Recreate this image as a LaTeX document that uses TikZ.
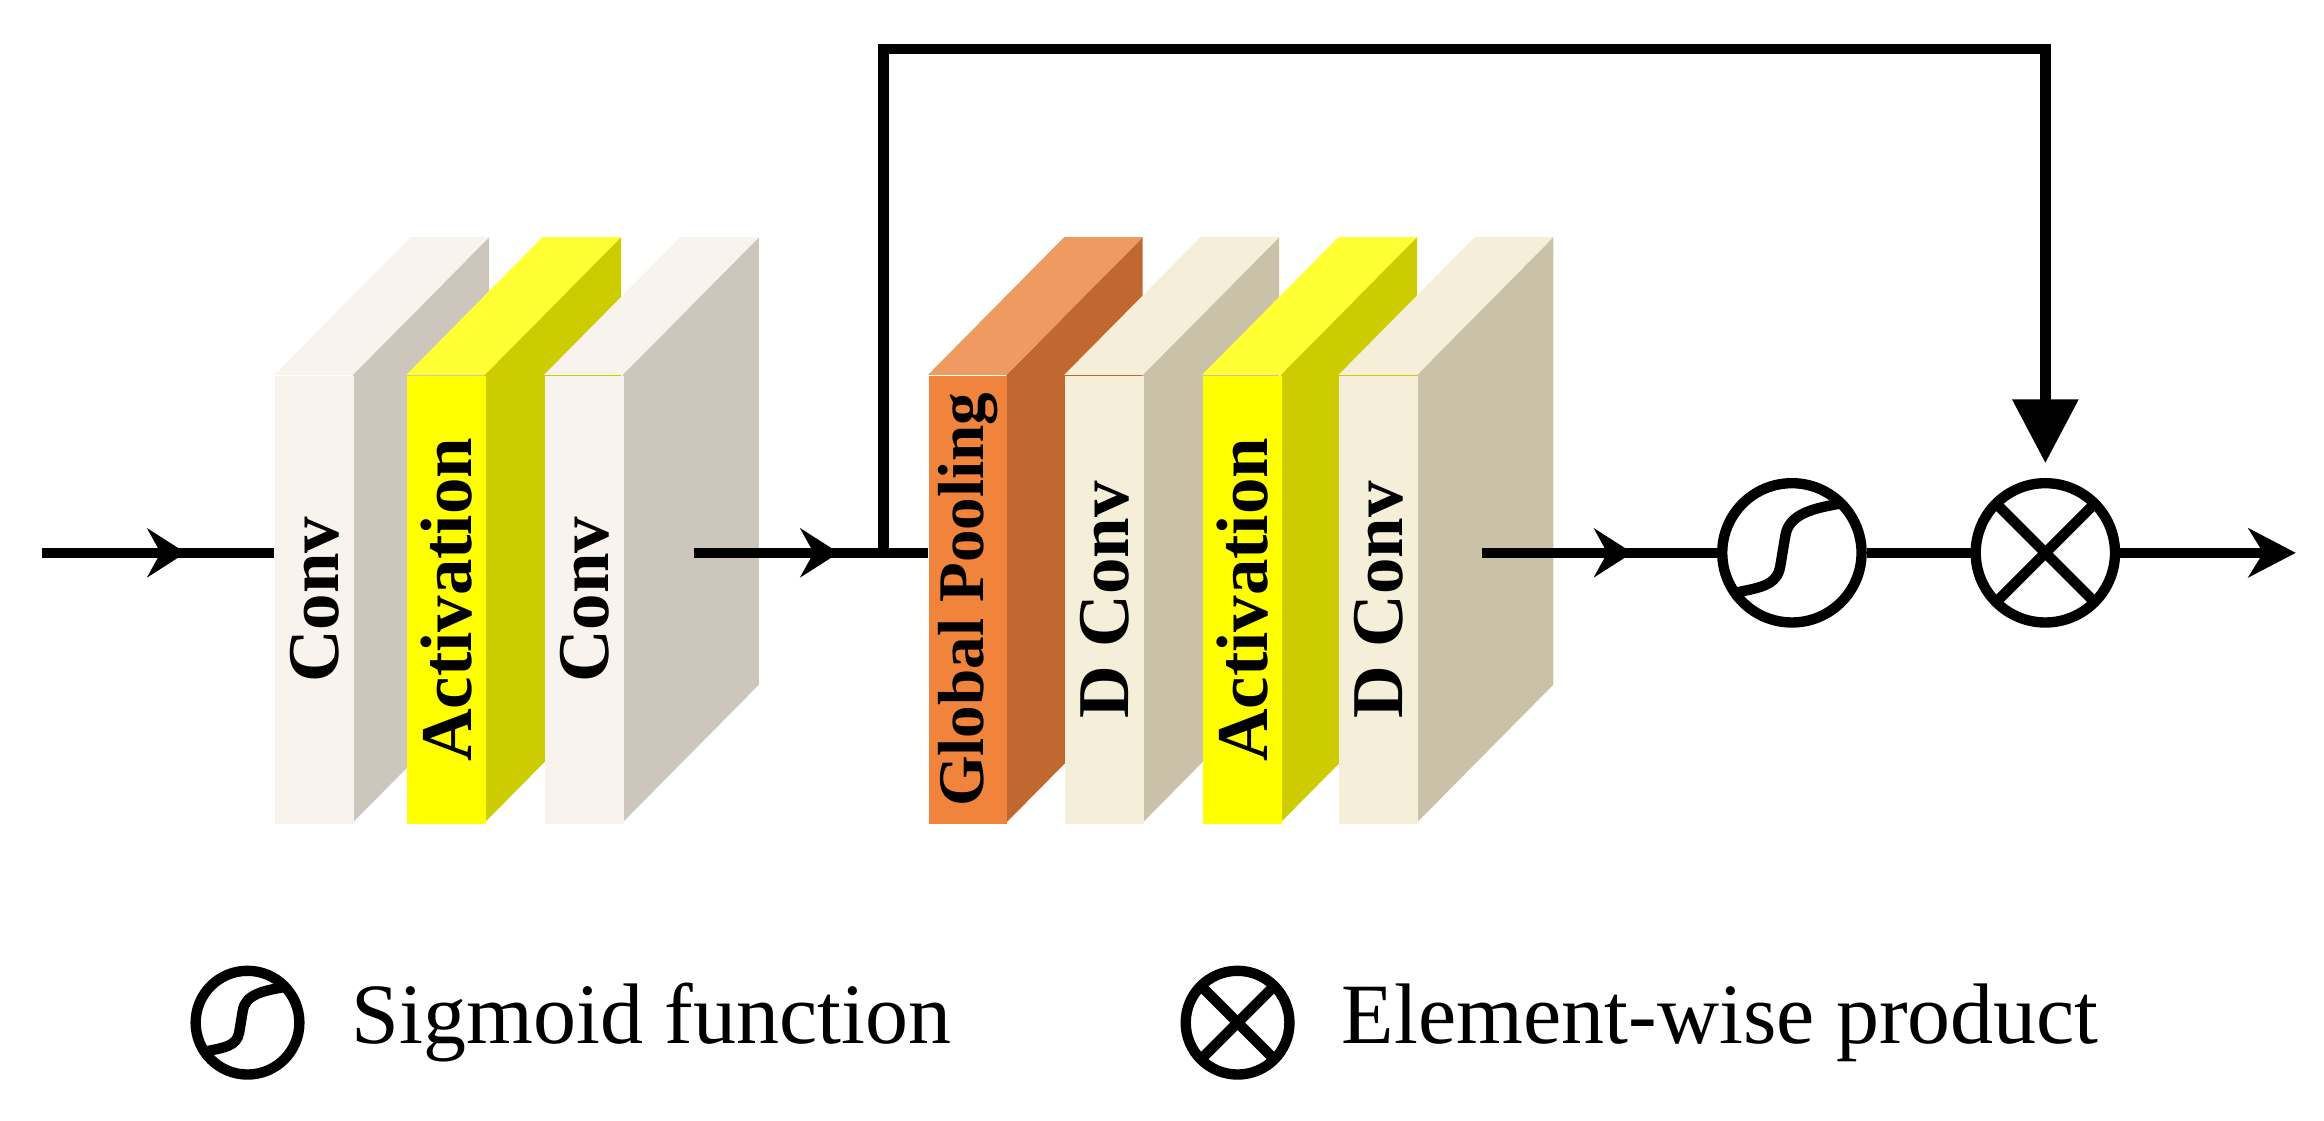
\documentclass[tikz,border=0pt]{standalone}
\usepackage{fontspec}
\setmainfont{Liberation Serif}
\usetikzlibrary{arrows.meta,decorations.markings}
\definecolor{convF}{HTML}{F8F3EC}\definecolor{convS}{HTML}{CCC6BD}
\definecolor{actF}{HTML}{FFFF00}\definecolor{actS}{HTML}{CCCC00}\definecolor{actT}{HTML}{FFFF33}
\definecolor{gpF}{HTML}{F0843C}\definecolor{gpS}{HTML}{C06830}\definecolor{gpT}{HTML}{EE9A60}
\definecolor{dcF}{HTML}{F5EFD9}\definecolor{dcS}{HTML}{C9C2A9}
\tikzset{
 x=0.1mm,y=-0.1mm,
 ln/.style={line width=0.7mm},
 tip/.style={-{Stealth[length=3.2mm,width=3.3mm,inset=1mm]}},
 dtip/.style={-{Triangle[length=4.3mm,width=4.3mm]}},
 mid/.style={postaction={decorate},decoration={markings,mark=at position #1 with {\arrow{Stealth[length=2.6mm,width=3.3mm,inset=0.9mm]}}}},
 face/.style={minimum width=5.3mm,minimum height=30.2mm,inner sep=0,draw=none},
 btxt/.style={rotate=90,font=\bfseries\fontsize{14pt}{16pt}\selectfont},
 op/.style={circle,draw,line width=0.7mm,minimum size=9.4mm,inner sep=0},
 lop/.style={circle,draw,line width=0.7mm,minimum size=7mm,inner sep=0},
}
\newcommand\myblk[7]{%
 \fill[#4] (#2+53,253) -- (#2+145,160) -- (#2+145,462) -- (#2+53,555) -- cycle;
 \fill[#5] (#2,253) -- (#2+92,160) -- (#2+145,160) -- (#2+53,253) -- cycle;
 \node[face,fill=#3,anchor=north west] (#1) at (#2,253) {};
 \node[btxt,#7] (#1t) at (#1.center) {#6};
}
\newcommand\sigpath{(-34,24) .. controls (-20,21) and (-9,20) .. (-7,8) -- (-4,-10) .. controls (-2,-24) and (14,-27) .. (31,-30)}
\begin{document}
\begin{tikzpicture}
\useasboundingbox (0,0) rectangle (1568,756);
\myblk{c1}{185}{convF}{convS}{convF}{Conv}{}
\myblk{a1}{274}{actF}{actS}{actT}{Activation}{}
\myblk{c2}{367}{convF}{convS}{convF}{Conv}{}
\myblk{gp}{626}{gpF}{gpS}{gpT}{Global Pooling}{font=\bfseries\fontsize{12.5pt}{14pt}\selectfont}
\myblk{d1}{718}{dcF}{dcS}{dcF}{D Conv}{}
\myblk{a2}{811}{actF}{actS}{actT}{Activation}{}
\myblk{d2}{903}{dcF}{dcS}{dcF}{D Conv}{}
\coordinate (in) at (28,373);
\coordinate (c2o) at (468,373);
\coordinate (br) at (596,373);
\coordinate (d2o) at (1000,373);
\coordinate (out) at (1549,373);
\node[op] (sig) at (1209,373) {};
\node[op] (prod) at (1380,373) {};
\begin{scope}[shift={(sig)},scale=1.12]\draw[ln] \sigpath;\end{scope}
\draw[ln,shift={(prod)}] (-34,-34) -- (34,34) (-34,34) -- (34,-34);
\draw[ln,mid=0.62] (in) -- (c1.west |- in);
\draw[ln,mid=0.62] (c2o) -- (gp.west |- c2o);
\draw[ln,dtip] (br) -- ++(0,-340) -| ([yshift=1mm]prod.north);
\draw[ln,mid=0.64] (d2o) -- (sig.west);
\draw[ln] (sig.east) -- (prod.west);
\draw[ln,tip] (prod.east) -- (out);
\node[lop] (lsig) at (167,690) {};
\begin{scope}[shift={(lsig)},scale=0.8]\draw[ln] \sigpath;\end{scope}
\node[anchor=west,font=\fontsize{16.5pt}{18pt}\selectfont] (lsigt) at (225,690) {Sigmoid function};
\node[lop] (lprod) at (835,690) {};
\draw[ln,shift={(lprod)}] (-25,-25) -- (25,25) (-25,25) -- (25,-25);
\node[anchor=west,font=\fontsize{16.5pt}{18pt}\selectfont] (lprodt) at (893,690) {Element-wise product};
\end{tikzpicture}
\end{document}
